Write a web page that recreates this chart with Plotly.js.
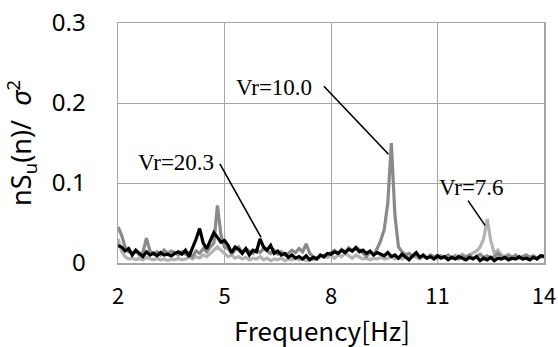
<!DOCTYPE html>
<html>
<head>
<meta charset="utf-8">
<script src="https://cdn.plot.ly/plotly-3.0.1.min.js"></script>
<style>html,body{margin:0;padding:0;background:#fff;}#chart{width:558px;height:347px;}</style>
</head>
<body>
<div id="chart"></div>
<script>
// Frequency axis (Hz), step 0.1 from 2.0 to 14.0
var freq = [];
for (var i = 0; i <= 120; i++) { freq.push(+(2 + i * 0.1).toFixed(1)); }

var seriesNames = ["Vr=7.6", "Vr=10.0", "Vr=20.3"];

var vr76 = [
0.030,0.015,0.008,0.005,0.006,0.004,0.006,0.004,0.007,0.005,
0.004,0.006,0.004,0.005,0.003,0.005,0.004,0.006,0.004,0.005,
0.007,0.005,0.008,0.006,0.010,0.008,0.012,0.015,0.020,0.016,
0.012,0.008,0.010,0.006,0.008,0.005,0.007,0.004,0.006,0.005,
0.008,0.004,0.006,0.003,0.005,0.004,0.006,0.003,0.005,0.004,
0.006,0.004,0.005,0.003,0.005,0.004,0.006,0.008,0.010,0.007,
0.009,0.006,0.010,0.008,0.012,0.009,0.006,0.010,0.007,0.005,
0.006,0.004,0.006,0.005,0.007,0.005,0.006,0.008,0.005,0.007,
0.005,0.008,0.006,0.009,0.007,0.005,0.008,0.006,0.009,0.007,
0.010,0.008,0.006,0.009,0.007,0.010,0.008,0.011,0.008,0.010,
0.012,0.015,0.020,0.030,0.055,0.028,0.012,0.016,0.010,0.008,
0.011,0.007,0.009,0.006,0.008,0.010,0.007,0.009,0.006,0.008,
0.007];

var vr100 = [
0.045,0.035,0.020,0.014,0.012,0.015,0.010,0.013,0.031,0.015,
0.012,0.014,0.010,0.016,0.012,0.015,0.013,0.010,0.014,0.011,
0.013,0.008,0.015,0.012,0.018,0.014,0.020,0.025,0.072,0.035,
0.020,0.018,0.012,0.016,0.020,0.013,0.018,0.015,0.012,0.017,
0.013,0.018,0.015,0.012,0.016,0.011,0.014,0.010,0.012,0.016,
0.013,0.018,0.014,0.024,0.012,0.008,0.006,0.009,0.007,0.010,
0.012,0.016,0.012,0.017,0.014,0.019,0.015,0.020,0.017,0.012,
0.008,0.014,0.010,0.018,0.028,0.042,0.075,0.150,0.060,0.020,
0.014,0.010,0.012,0.008,0.010,0.007,0.009,0.006,0.010,0.008,
0.006,0.009,0.007,0.010,0.006,0.008,0.005,0.009,0.007,0.010,
0.006,0.008,0.011,0.007,0.009,0.006,0.008,0.012,0.008,0.006,
0.009,0.007,0.010,0.006,0.008,0.010,0.007,0.009,0.006,0.008,
0.010];

var vr203 = [
0.022,0.020,0.015,0.018,0.010,0.016,0.012,0.008,0.014,0.010,
0.012,0.009,0.013,0.010,0.011,0.009,0.012,0.014,0.011,0.016,
0.008,0.018,0.030,0.043,0.025,0.018,0.028,0.038,0.032,0.026,
0.028,0.022,0.013,0.020,0.017,0.012,0.018,0.010,0.016,0.014,
0.030,0.020,0.016,0.022,0.012,0.015,0.010,0.012,0.007,0.010,
0.006,0.008,0.005,0.009,0.004,0.007,0.005,0.010,0.008,0.012,
0.011,0.014,0.012,0.016,0.013,0.017,0.015,0.019,0.014,0.016,
0.012,0.015,0.010,0.013,0.011,0.009,0.013,0.008,0.010,0.006,
0.011,0.008,0.004,0.009,0.013,0.007,0.010,0.006,0.008,0.005,
0.009,0.006,0.008,0.004,0.007,0.005,0.008,0.006,0.004,0.007,
0.005,0.008,0.003,0.006,0.004,0.007,0.003,0.006,0.005,0.007,
0.004,0.006,0.005,0.008,0.005,0.006,0.004,0.007,0.005,0.009,
0.008];

var xTicks = [2, 5, 8, 11, 14];
var yTicks = [0, 0.1, 0.2, 0.3];
var yTickText = ["0", "0.1", "0.2", "0.3"];
var xTitle = "Frequency[Hz]";
var yTitle = "nS<sub>u</sub>(n)/&nbsp;&nbsp;<i>σ</i><sup>2</sup>";

var colors = ["#b3b3b3", "#8a8a8a", "#000000"];
var allY = [vr76, vr100, vr203];

var traces = allY.map(function (ys, k) {
  return {
    x: freq, y: ys, type: "scatter", mode: "lines", name: seriesNames[k],
    line: {color: colors[k], width: 3.2}
  };
});

var gridC = "#a6a6a6";
var serif = "Liberation Serif, Times New Roman, serif";
function leader(x0, y0, x1, y1) {
  return {type: "line", xref: "x", yref: "y", x0: x0, y0: y0, x1: x1, y1: y1,
    line: {color: "#000", width: 1.6}};
}
var layout = {
  width: 558, height: 347,
  margin: {l: 118, r: 14, t: 23, b: 84},
  paper_bgcolor: "#fff", plot_bgcolor: "#fff",
  showlegend: false,
  font: {family: "Liberation Sans, Arial, sans-serif", color: "#000"},
  xaxis: {
    range: [2, 14], tickvals: xTicks, ticktext: xTicks.map(String),
    showgrid: true, gridcolor: gridC, gridwidth: 1,
    showline: true, linecolor: gridC, linewidth: 1.5, mirror: true,
    zeroline: false, ticks: "", ticklabelstandoff: 13,
    tickfont: {family: "Noto Sans CJK JP, sans-serif", size: 22, color: "#000"}
  },
  yaxis: {
    range: [0, 0.3], tickvals: yTicks, ticktext: yTickText,
    showgrid: true, gridcolor: gridC, gridwidth: 1,
    showline: true, linecolor: gridC, linewidth: 1.5, mirror: true,
    zeroline: false, ticks: "", ticklabelstandoff: 26,
    tickfont: {family: "Noto Sans, sans-serif", size: 24, color: "#000"},
    title: {text: yTitle, standoff: 12,
      font: {family: "Noto Sans, sans-serif", size: 27, color: "#000"}}
  },
  shapes: [
    leader(7.8, 0.221, 9.62, 0.136),
    leader(4.87, 0.124, 6.03, 0.032),
    leader(11.86, 0.078, 12.34, 0.047)
  ],
  annotations: [
    {x: 0.479, y: -0.278, xref: "paper", yref: "paper", xanchor: "center", yanchor: "middle",
      text: xTitle, showarrow: false,
      font: {family: "Noto Sans CJK JP, sans-serif", size: 26, color: "#000"}},
    {x: 6.39, y: 0.22, xref: "x", yref: "y", text: "Vr=10.0", showarrow: false,
      font: {family: serif, size: 23, color: "#000"}},
    {x: 3.63, y: 0.126, xref: "x", yref: "y", text: "Vr=20.3", showarrow: false,
      font: {family: serif, size: 23, color: "#000"}},
    {x: 11.97, y: 0.094, xref: "x", yref: "y", text: "Vr=7.6", showarrow: false,
      font: {family: serif, size: 23, color: "#000"}}
  ]
};

Plotly.newPlot("chart", traces, layout, {staticPlot: true, displayModeBar: false});
</script>
</body>
</html>
